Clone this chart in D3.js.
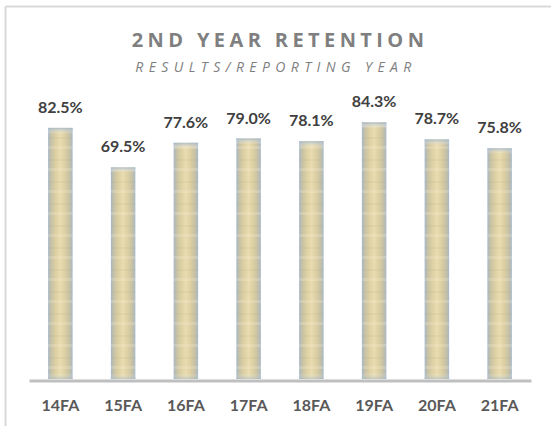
<!DOCTYPE html>
<html><head><meta charset="utf-8">
<script src="https://cdn.jsdelivr.net/npm/d3@7"></script>
<style>html,body{margin:0;padding:0;background:#fff;}svg{display:block;}</style>
</head><body>
<script>
const categories = ["14FA","15FA","16FA","17FA","18FA","19FA","20FA","21FA"];
const retention = [82.5, 69.5, 77.6, 79.0, 78.1, 84.3, 78.7, 75.8];
const titleText = "2ND YEAR RETENTION";
const subtitleText = "RESULTS/REPORTING YEAR";

const W = 551, H = 426;
const svg = d3.select("body").append("svg").attr("width", W).attr("height", H);

// chart frame (only top and left edges visible)
svg.append("line").attr("x1",5.5).attr("x2",W).attr("y1",6.5).attr("y2",6.5)
  .attr("stroke","#d9d9d9").attr("stroke-width",2);
svg.append("line").attr("x1",5.5).attr("x2",5.5).attr("y1",6.5).attr("y2",H)
  .attr("stroke","#d9d9d9").attr("stroke-width",2);

const defs = svg.append("defs");
const g1 = defs.append("linearGradient").attr("id","barH").attr("x1",0).attr("x2",1).attr("y1",0).attr("y2",0);
[[0,"#a3b6c9"],[0.1,"#c3c0a8"],[0.3,"#dccfa2"],[0.5,"#e9dcb0"],[0.7,"#dbcea2"],[0.9,"#c2bfa8"],[1,"#a5b8cb"]]
  .forEach(([o,c])=>g1.append("stop").attr("offset",o).attr("stop-color",c));
const g2 = defs.append("linearGradient").attr("id","barV").attr("x1",0).attr("x2",0).attr("y1",0).attr("y2",1);
[[0,"#9fb4c9",0.8],[0.025,"#ffffff",0],[0.975,"#ffffff",0],[1,"#9fb4c9",0.5]]
  .forEach(([o,c,a])=>g2.append("stop").attr("offset",o).attr("stop-color",c).attr("stop-opacity",a));
const pat = defs.append("pattern").attr("id","tex").attr("patternUnits","userSpaceOnUse")
  .attr("width",24).attr("height",22);
pat.append("rect").attr("x",0).attr("y",5).attr("width",24).attr("height",2).attr("fill","#b3a57a").attr("opacity",0.12);
pat.append("rect").attr("x",0).attr("y",14).attr("width",24).attr("height",3).attr("fill","#fbf3d8").attr("opacity",0.22);

const x = d3.scaleBand().domain(categories).range([29, 531]).paddingInner(0.61).paddingOuter(0.305);
const y = d3.scaleLinear().domain([0, 100]).range([379, 74.6]);

const bars = svg.append("g");
const data = categories.map((c,i)=>({c, v: retention[i]}));
["url(#barH)","url(#tex)","url(#barV)"].forEach((f,k)=>{
  bars.selectAll("rect.l"+k).data(data).join("rect").attr("class","l"+k)
    .attr("x", d=>x(d.c)).attr("width", x.bandwidth())
    .attr("y", d=>y(d.v)).attr("height", d=>y(0)-y(d.v)).attr("fill",f);
});

// value labels
svg.append("g").selectAll("text").data(data).join("text")
  .attr("x", d=>x(d.c)+x.bandwidth()/2).attr("y", d=>y(d.v)-15)
  .attr("text-anchor","middle")
  .style("font-family","Lato, 'Open Sans', sans-serif").style("font-weight","bold")
  .style("font-size","16px").attr("fill","#404040")
  .text(d=>d.v.toFixed(1)+"%");

// x axis
const xAxis = svg.append("g").attr("transform","translate(0,380.5)")
  .call(d3.axisBottom(x).tickSize(0).tickPadding(19));
xAxis.select(".domain").attr("stroke","#bfbfbf").attr("stroke-width",3);
xAxis.selectAll("text").style("font-family","Lato, 'Open Sans', sans-serif")
  .style("font-weight","bold").style("font-size","16px").attr("fill","#595959");

// titles
svg.append("text").attr("x",280).attr("y",47).attr("text-anchor","middle")
  .style("font-family","'Open Sans', Lato, sans-serif").style("font-weight","bold")
  .style("font-size","20px").style("letter-spacing","4.4px").attr("fill","#7f7f7f")
  .text(titleText);
svg.append("text").attr("x",276).attr("y",72).attr("text-anchor","middle")
  .style("font-family","'Open Sans', Lato, sans-serif").style("font-style","italic")
  .style("font-size","14px").style("letter-spacing","5.4px").attr("fill","#7f7f7f")
  .text(subtitleText);
</script>
</body></html>
